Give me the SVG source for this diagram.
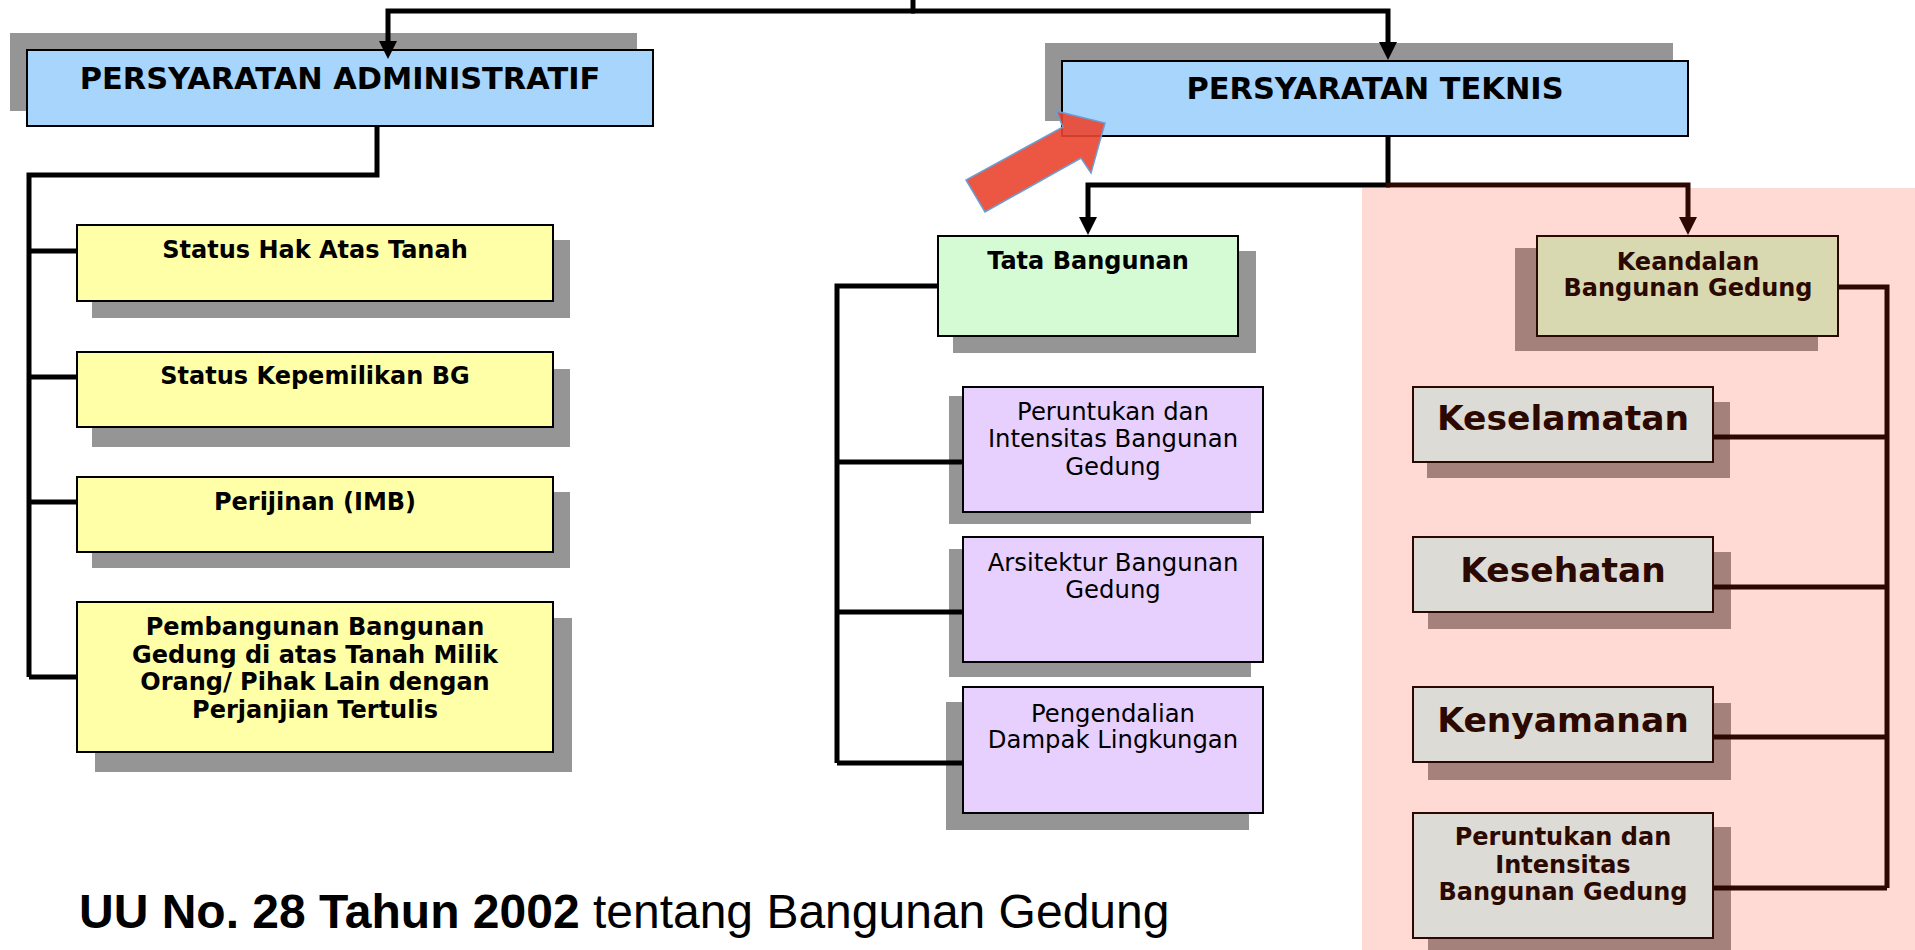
<svg xmlns="http://www.w3.org/2000/svg" width="1915" height="950" viewBox="0 0 1915 950">
<defs>
<style>
.bg{fill:#ffffff}
.pink{fill:#ffdad4}
.sh{fill:#959595}
.shb{fill:#a4817b}
.box{stroke:#000000;stroke-width:2}
.boxb{stroke:#2b0900;stroke-width:2}
.blue{fill:#a8d5fc}
.yel{fill:#ffffa8}
.grn{fill:#d5fbd5}
.pur{fill:#e7d0fe}
.olv{fill:#d9d9b1}
.gry{fill:#dcdbd5}
.t{font-family:"DejaVu Sans",Verdana,sans-serif;text-anchor:middle;fill:#000000}
.tb{font-weight:bold;font-size:24px}
.tr{font-weight:normal;font-size:24.3px}
.th{font-weight:bold;font-size:30.4px}
.tk{font-weight:bold;font-size:34.5px;fill:#2b0900}
.tbr{fill:#2b0900}
.c{fill:none;stroke:#000000;stroke-width:5;stroke-linejoin:miter}
.cb{fill:none;stroke:#2b0900;stroke-width:5;stroke-linejoin:miter}
.foot{font-family:"Liberation Sans",Arial,sans-serif;font-size:48px;fill:#000000}
</style>
<marker id="ah" markerUnits="userSpaceOnUse" markerWidth="20" markerHeight="20" refX="8" refY="9" orient="auto">
<path d="M0,0 L18,9 L0,18 z" fill="#000000"/>
</marker>
<marker id="ahb" markerUnits="userSpaceOnUse" markerWidth="20" markerHeight="20" refX="8" refY="9" orient="auto">
<path d="M0,0 L18,9 L0,18 z" fill="#2b0900"/>
</marker>
</defs>
<rect class="bg" x="0" y="0" width="1915" height="950"/>
<rect class="pink" x="1362" y="188" width="553" height="762"/>

<g id="persyaratan-administratif">
<rect class="sh" x="10" y="33" width="627" height="78"/>
<rect class="box blue" x="27" y="50" width="626" height="76"/>
<text class="t th" x="340" y="89">PERSYARATAN ADMINISTRATIF</text>
</g>

<g id="persyaratan-teknis">
<rect class="sh" x="1045" y="43" width="628" height="78"/>
<rect class="box blue" x="1062" y="61" width="626" height="75"/>
<text class="t th" x="1375" y="99">PERSYARATAN TEKNIS</text>
</g>

<g id="status-hak">
<rect class="sh" x="92" y="240" width="478" height="78"/>
<rect class="box yel" x="77" y="225" width="476" height="76"/>
<text class="t tb" x="315" y="258">Status Hak Atas Tanah</text>
</g>

<g id="status-kepemilikan">
<rect class="sh" x="92" y="369" width="478" height="78"/>
<rect class="box yel" x="77" y="352" width="476" height="75"/>
<text class="t tb" x="315" y="384">Status Kepemilikan BG</text>
</g>

<g id="perijinan">
<rect class="sh" x="92" y="492" width="478" height="76"/>
<rect class="box yel" x="77" y="477" width="476" height="75"/>
<text class="t tb" x="315" y="510">Perijinan (IMB)</text>
</g>

<g id="pembangunan">
<rect class="sh" x="95" y="618" width="477" height="154"/>
<rect class="box yel" x="77" y="602" width="476" height="150"/>
<text class="t tb" x="315" y="635">Pembangunan Bangunan</text>
<text class="t tb" x="315" y="662.5">Gedung di atas Tanah Milik</text>
<text class="t tb" x="315" y="690">Orang/ Pihak Lain dengan</text>
<text class="t tb" x="315" y="717.5">Perjanjian Tertulis</text>
</g>

<g id="tata-bangunan">
<rect class="sh" x="953" y="251" width="303" height="102"/>
<rect class="box grn" x="938" y="236" width="300" height="100"/>
<text class="t tb" x="1088" y="269">Tata Bangunan</text>
</g>

<g id="peruntukan-intensitas">
<rect class="sh" x="949" y="396" width="302" height="128"/>
<rect class="box pur" x="963" y="387" width="300" height="125"/>
<text class="t tr" x="1113" y="420">Peruntukan dan</text>
<text class="t tr" x="1113" y="447">Intensitas Bangunan</text>
<text class="t tr" x="1113" y="475">Gedung</text>
</g>

<g id="arsitektur">
<rect class="sh" x="949" y="549" width="302" height="128"/>
<rect class="box pur" x="963" y="537" width="300" height="125"/>
<text class="t tr" x="1113" y="571">Arsitektur Bangunan</text>
<text class="t tr" x="1113" y="598">Gedung</text>
</g>

<g id="pengendalian">
<rect class="sh" x="946" y="702" width="303" height="128"/>
<rect class="box pur" x="963" y="687" width="300" height="126"/>
<text class="t tr" x="1113" y="722">Pengendalian</text>
<text class="t tr" x="1113" y="748">Dampak Lingkungan</text>
</g>

<g id="keandalan">
<rect class="shb" x="1515" y="248" width="303" height="103"/>
<rect class="boxb olv" x="1537" y="236" width="301" height="100"/>
<text class="t tb tbr" x="1688" y="270">Keandalan</text>
<text class="t tb tbr" x="1688" y="296">Bangunan Gedung</text>
</g>

<g id="keselamatan">
<rect class="shb" x="1427" y="402" width="303" height="76"/>
<rect class="boxb gry" x="1413" y="387" width="300" height="75"/>
<text class="t tk" x="1563" y="430">Keselamatan</text>
</g>

<g id="kesehatan">
<rect class="shb" x="1428" y="552" width="303" height="77"/>
<rect class="boxb gry" x="1413" y="537" width="300" height="75"/>
<text class="t tk" x="1563" y="582">Kesehatan</text>
</g>

<g id="kenyamanan">
<rect class="shb" x="1428" y="703" width="303" height="77"/>
<rect class="boxb gry" x="1413" y="687" width="300" height="75"/>
<text class="t tk" x="1563" y="732">Kenyamanan</text>
</g>

<g id="peruntukan-keandalan">
<rect class="shb" x="1428" y="827" width="303" height="130"/>
<rect class="boxb gry" x="1413" y="813" width="300" height="125"/>
<text class="t tb tbr" x="1563" y="845">Peruntukan dan</text>
<text class="t tb tbr" x="1563" y="872.5">Intensitas</text>
<text class="t tb tbr" x="1563" y="900">Bangunan Gedung</text>
</g>

<g id="connectors">
<path class="c" d="M913,0 V11"/>
<path class="c" d="M915,11 H388 V49" marker-end="url(#ah)"/>
<path class="c" d="M911,11 H1388 V50" marker-end="url(#ah)"/>
<path class="c" d="M377,126 V175 H29 V677"/>
<path class="c" d="M29,251 H77"/>
<path class="c" d="M29,377 H77"/>
<path class="c" d="M29,502 H77"/>
<path class="c" d="M29,677 H77"/>
<path class="c" d="M1388,136 V185"/>
<path class="c" d="M1390,185 H1088 V225" marker-end="url(#ah)"/>
<path class="cb" d="M1386,185 H1688 V225" marker-end="url(#ahb)"/>
<path class="c" d="M938,286 H837 V763"/>
<path class="c" d="M837,462 H963"/>
<path class="c" d="M837,612 H963"/>
<path class="c" d="M837,763 H963"/>
<path class="cb" d="M1838,287 H1887 V888"/>
<path class="cb" d="M1713,437 H1887"/>
<path class="cb" d="M1713,587 H1887"/>
<path class="cb" d="M1713,737 H1887"/>
<path class="cb" d="M1713,888 H1887"/>
</g>

<g id="red-arrow">
<polygon points="1056,111 1105,123 1091,173 1081,158 985,212 966,180 1063,127" fill="#ea4530" fill-opacity="0.9" stroke="#6a9fd4" stroke-width="1.5" stroke-linejoin="miter"/>
</g>

<text class="foot" x="79" y="928"><tspan font-weight="bold">UU No. 28 Tahun 2002</tspan> tentang Bangunan Gedung</text>
</svg>
